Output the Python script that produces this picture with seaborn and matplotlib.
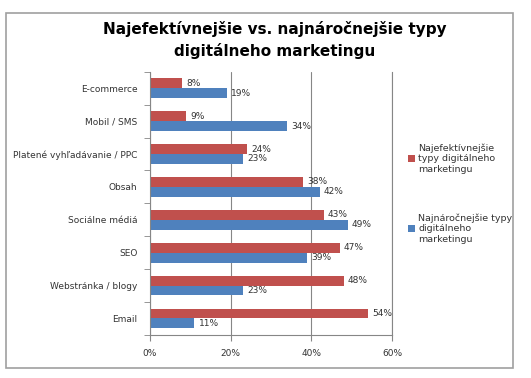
import pandas as pd
import seaborn as sns
import matplotlib.pyplot as plt
from matplotlib.patches import Rectangle
from matplotlib.ticker import FuncFormatter

# Data
categories = ["E-commerce", "Mobil / SMS", "Platené vyhľadávanie / PPC", "Obsah",
              "Sociálne médiá", "SEO", "Webstránka / blogy", "Email"]
effective = [8, 9, 24, 38, 43, 47, 48, 54]
demanding = [19, 34, 23, 42, 49, 39, 23, 11]
series_names = ["Najefektívnejšie\ntypy digitálneho\nmarketingu",
                "Najnáročnejšie typy\ndigitálneho\nmarketingu"]
colors = ["#C0504D", "#4F81BD"]

df = pd.DataFrame({
    "kategoria": categories * 2,
    "hodnota": effective + demanding,
    "seria": [series_names[0]] * len(categories) + [series_names[1]] * len(categories),
})

sns.set_style("white")
plt.rcParams["font.family"] = ["DejaVu Sans"]

fig = plt.figure(figsize=(5.31, 3.78), dpi=100)
ax = fig.add_axes([0.2825, 0.114, 0.456, 0.696])

sns.barplot(data=df, x="hodnota", y="kategoria", hue="seria", order=categories,
            hue_order=series_names, palette=colors, orient="h", width=0.6,
            gap=0, saturation=1, linewidth=0, ax=ax)

for cont in ax.containers:
    ax.bar_label(cont, fmt="%d%%", padding=3, fontsize=6.5, color="#333333")

ax.set_xlim(0, 60)
ax.set_xticks([0, 20, 40, 60])
ax.xaxis.set_major_formatter(FuncFormatter(lambda v, p: f"{v:.0f}%"))
ax.grid(axis="x", color="#868686", linewidth=0.8)
ax.set_axisbelow(True)
ax.set_xlabel("")
ax.set_ylabel("")
ax.spines["top"].set_visible(False)
ax.spines["right"].set_color("#868686")
ax.spines["right"].set_linewidth(0.8)
ax.spines["left"].set_color("#868686")
ax.spines["bottom"].set_color("#868686")
ax.tick_params(axis="x", labelsize=6.5, colors="#333333", length=4, color="#868686",
               direction="out", bottom=True, pad=6)
ax.tick_params(axis="y", labelsize=6.5, colors="#333333", length=0, pad=9)
# category boundary ticks on y axis
ax.set_yticks([i - 0.5 for i in range(len(categories) + 1)], minor=True)
ax.tick_params(axis="y", which="minor", length=4, color="#868686", left=True)

leg = ax.legend(loc="upper left", bbox_to_anchor=(1.03, 0.76), frameon=False,
                fontsize=6.8, handlelength=0.8, handleheight=0.8, handletextpad=0.3,
                labelspacing=4.2)
for t in leg.get_texts():
    t.set_color("#333333")

fig.suptitle("Najefektívnejšie vs. najnáročnejšie typy\ndigitálneho marketingu",
             x=0.518, y=0.945, fontsize=11, fontweight="bold", linespacing=1.45,
             color="black")

fig.patches.append(Rectangle((6 / 531, 1 - 368 / 378), 507 / 531, 355 / 378,
                             transform=fig.transFigure, fill=False,
                             edgecolor="#A0A0A0", linewidth=1.2))

fig.savefig("out.png", dpi=100)
